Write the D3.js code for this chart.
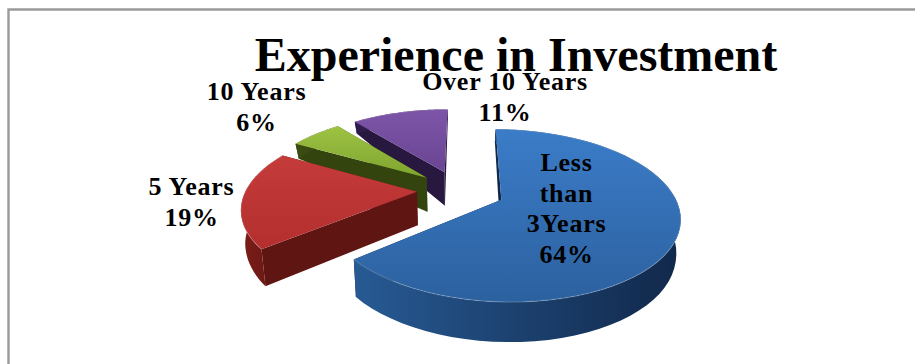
<!DOCTYPE html>
<html>
<head>
<meta charset="utf-8">
<style>
  html, body { margin: 0; padding: 0; background: #fff; }
  svg { display: block; }
  text { font-family: "Liberation Serif", serif; font-weight: bold; fill: #000; text-anchor: middle; }
</style>
<script src="https://cdn.jsdelivr.net/npm/d3@7"></script>
</head>
<body>
<script>
// Survey shares by length of investing experience
const categories = ["Less than 3Years", "5 Years", "10 Years", "Over 10 Years"];
const shares = [64, 19, 6, 11];
const labelLines = [["Less", "than", "3Years"], ["5 Years"], ["10 Years"], ["Over 10 Years"]];
const labelAnchors = [[566.5, 171], [191.5, 195], [256.5, 100], [505, 90]];
const faceTop = ["#3b7cc8", "#c43b3a", "#9dc243", "#7d55a8"];
const faceBottom = ["#2c619f", "#b32f2e", "#7fa52f", "#6a4593"];
const wallLight = ["#275a94", "#7d1d19", "#3a4d12", "#2e1d4d"];
const wallDark = ["#11284a", "#5f1512", "#34440f", "#281840"];
const explodeBy = [0.275, 0.24, 0.245, 0.245];
const titleText = "Experience in Investment";

const width = 915, height = 364;
const svg = d3.select("body").append("svg").attr("width", width).attr("height", height);

// Frame: open at the right and bottom edges of the page
svg.append("path")
  .attr("d", "M8.5,364V9.5H915")
  .attr("fill", "none").attr("stroke", "#9a9a9a").attr("stroke-width", 2.4);

// Tilted disc: perspective projection of unit-disc coordinates
const cx = 458, cy = 190, R = 171, Q = 80, k = 0.18;
const project = (u, v) => {
  const s = 1 / (1 - k * v);
  return [cx + R * u * s, cy + Q * v * s];
};
// Wall height grows toward the viewer
const depth = d3.scaleLinear().domain([115, 142, 173, 213, 248, 300]).range([11, 14, 34, 33, 37, 40]).clamp(true);
const lower = ([x, y]) => [cx + (x - cx) * 0.98, y + depth(y)];

const rotation = 0.4 * Math.PI / 180;
const pie = d3.pie().sort(null).startAngle(rotation).endAngle(2 * Math.PI + rotation);
const arcs = pie(shares);
const line = d3.line();

const defs = svg.append("defs");
arcs.forEach((a, i) => {
  const f = defs.append("linearGradient").attr("id", `face${i}`).attr("x1", 0).attr("y1", 0).attr("x2", 0).attr("y2", 1);
  f.append("stop").attr("offset", 0).attr("stop-color", faceTop[i]);
  f.append("stop").attr("offset", 1).attr("stop-color", faceBottom[i]);
  const w = defs.append("linearGradient").attr("id", `wall${i}`).attr("x1", 0).attr("y1", 0).attr("x2", 1).attr("y2", 0);
  w.append("stop").attr("offset", 0).attr("stop-color", wallLight[i]);
  w.append("stop").attr("offset", 1).attr("stop-color", wallDark[i]);
});

// Paint from the back of the disc forward
[3, 2, 1, 0].forEach(i => {
  const a = arcs[i];
  const mid = (a.startAngle + a.endAngle) / 2;
  const u0 = explodeBy[i] * Math.sin(mid), v0 = -explodeBy[i] * Math.cos(mid);
  const apex = project(u0, v0);
  const steps = d3.range(0, 61).map(t => a.startAngle + (a.endAngle - a.startAngle) * t / 60);
  const rim = steps.map(t => project(u0 + Math.sin(t), v0 - Math.cos(t)));
  const first = rim[0], last = rim[rim.length - 1];
  const g = svg.append("g").attr("class", "slice");

  g.append("path").attr("d", line([apex, last, lower(last), lower(apex)]) + "Z").attr("fill", wallDark[i]);
  g.append("path").attr("d", line([apex, first, lower(first), lower(apex)]) + "Z").attr("fill", wallDark[i]);
  g.append("path").attr("d", line(rim.concat(rim.map(lower).reverse())) + "Z").attr("fill", `url(#wall${i})`);
  g.append("path").attr("d", line([apex, ...rim]) + "Z").attr("fill", `url(#face${i})`);
  g.append("path").attr("d", line(rim)).attr("fill", "none").attr("stroke", "#fff").attr("stroke-opacity", 0.18).attr("stroke-width", 1.2);
});

// Title and data labels
svg.append("text").attr("x", 516).attr("y", 70.5).attr("font-size", 48).text(titleText);

const lineGap = 30.7;
categories.forEach((c, i) => {
  const [x, y] = labelAnchors[i];
  const t = svg.append("text").attr("font-size", 26).attr("letter-spacing", 0.75);
  labelLines[i].concat(`${shares[i]}%`).forEach((l, j) => {
    t.append("tspan").attr("x", x).attr("y", y + j * lineGap).text(l);
  });
});
</script>
</body>
</html>
